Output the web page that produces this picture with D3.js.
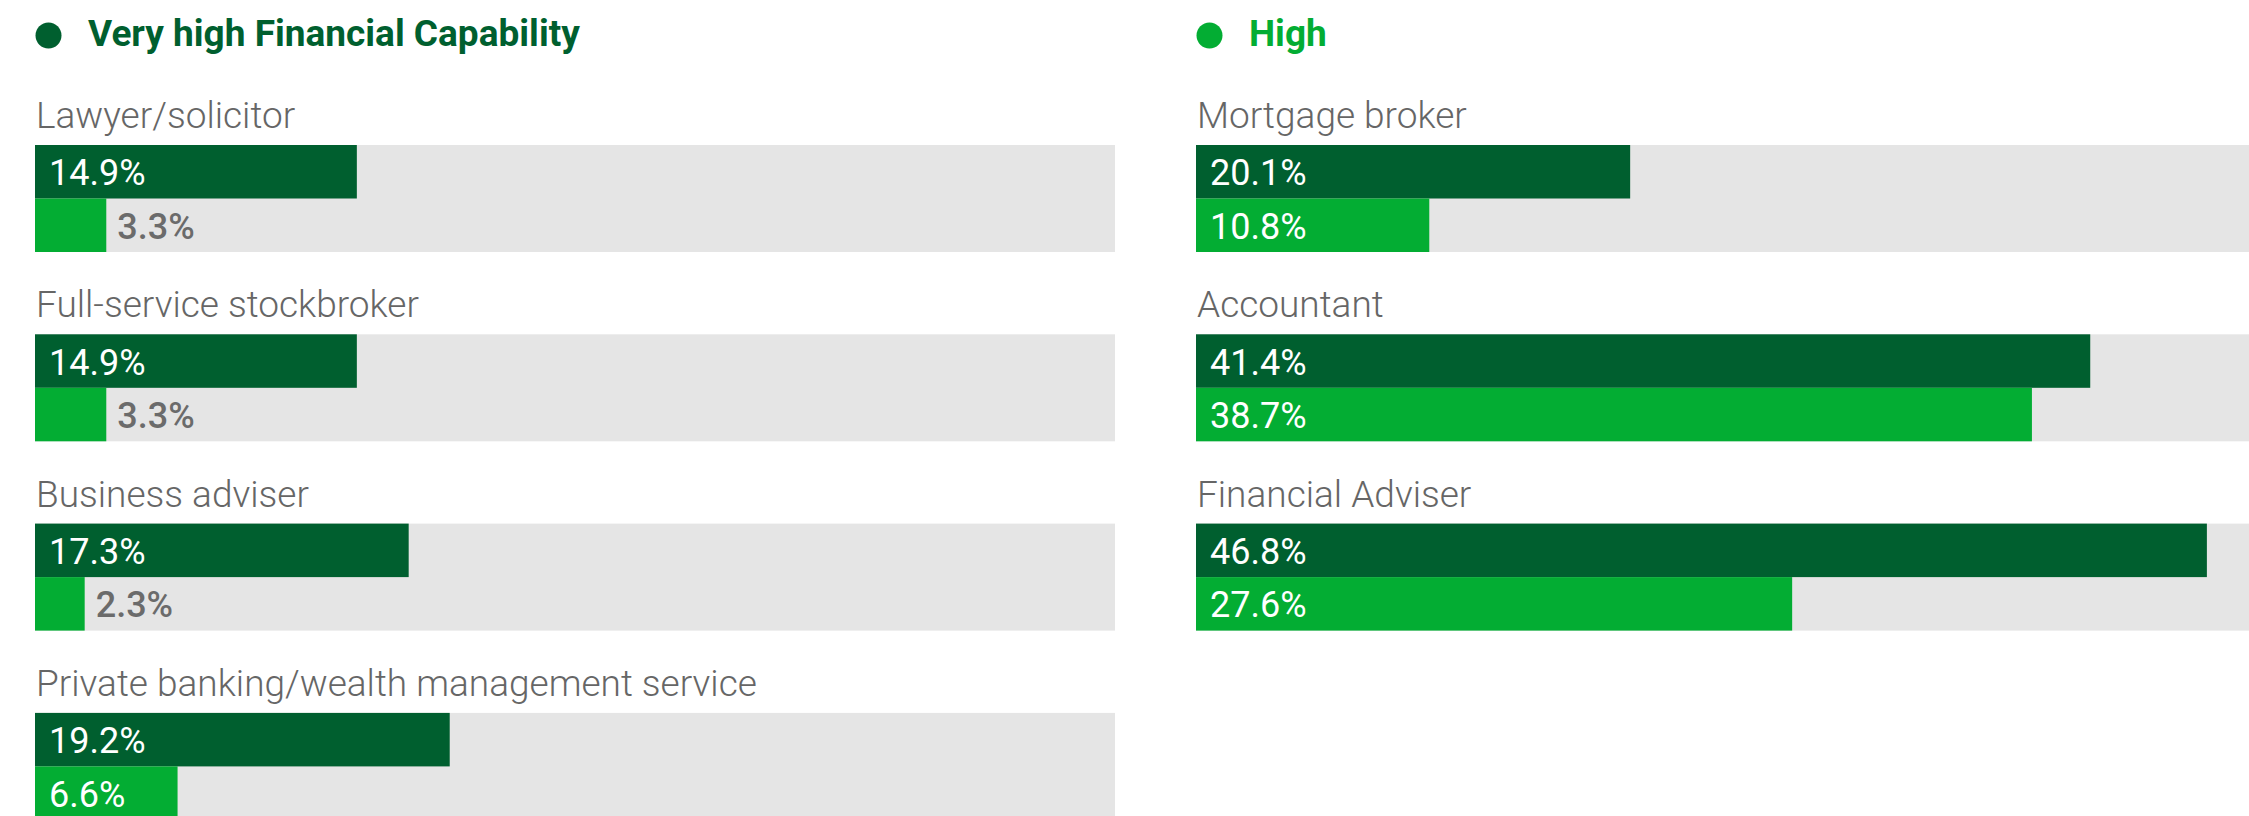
<!DOCTYPE html>
<html>
<head>
<meta charset="utf-8">
<script src="https://cdn.jsdelivr.net/npm/d3@7"></script>
<style>
  body { margin: 0; background: #fff; }
  svg { display: block; font-family: Roboto, "Noto Sans", sans-serif; }
</style>
</head>
<body>
<div></div>
<script>
// data
const seriesNames = ["Very high Financial Capability", "High"];
const categories = [
    "Lawyer/solicitor",
    "Full-service stockbroker",
    "Business adviser",
    "Private banking/wealth management service",
    "Mortgage broker",
    "Accountant",
    "Financial Adviser"
];
const veryHigh = [14.9, 14.9, 17.3, 19.2, 20.1, 41.4, 46.8];
const high = [3.3, 3.3, 2.3, 6.6, 10.8, 38.7, 27.6];
// which column each category sits in
const column = [0, 0, 0, 0, 1, 1, 1];

const width = 2249, height = 816;
const colors = ["#005f2f", "#03ad33"];

const svg = d3.select("body div")
    .append("svg")
    .attr("width", width)
    .attr("height", height);

// columns and rows
const colX = d3.scalePoint().domain([0, 1]).range([35, 1196]);
const rowY = d3.scaleLinear().domain([0, 1]).range([145, 334.3]);
const x = d3.scaleLinear().domain([0, 50]).range([0, 1080]);
const sub = d3.scaleBand().domain([0, 1]).range([0, 107]);

const rows = categories.map(function (c, i) {
    const r = column.slice(0, i).filter(function (k) { return k == column[i]; }).length;
    return { name: c, col: column[i], row: r, values: [veryHigh[i], high[i]] };
});

// legend across the top
const legend = svg.append("g")
    .selectAll("g")
    .data(seriesNames)
    .join("g")
    .attr("transform", function (d, i) { return `translate(${colX(i)},0)`; });

legend.append("circle")
    .attr("cx", 13.5)
    .attr("cy", 35.5)
    .attr("r", 13)
    .attr("fill", function (d, i) { return colors[i]; });

legend.append("text")
    .attr("x", 53)
    .attr("y", 46)
    .style("font-size", "37px")
    .style("font-weight", 700)
    .attr("fill", function (d, i) { return colors[i]; })
    .text(function (d) { return d; });

// one group per category
const group = svg.append("g")
    .selectAll("g")
    .data(rows)
    .join("g")
    .attr("transform", function (d) { return `translate(${colX(d.col)},${rowY(d.row)})`; });

group.append("text")
    .attr("x", 1)
    .attr("y", -17)
    .style("font-size", "37px")
    .style("font-weight", 300)
    .attr("fill", "#666")
    .text(function (d) { return d.name; });

// grey track behind both bars
group.append("rect")
    .attr("width", x(50))
    .attr("height", sub.range()[1])
    .attr("fill", "#e5e5e5");

const bar = group.selectAll("g.bar")
    .data(function (d) { return d.values; })
    .join("g")
    .attr("class", "bar")
    .attr("transform", function (d, i) { return `translate(0,${sub(i)})`; });

bar.append("rect")
    .attr("width", function (d) { return x(d); })
    .attr("height", sub.bandwidth())
    .attr("fill", function (d, i) { return colors[i]; });

bar.append("text")
    .attr("y", sub.bandwidth() / 2 + 13.5)
    .style("font-size", "36px")
    .style("font-weight", 400)
    .text(function (d) { return d.toFixed(1) + "%"; })
    .each(function (d) {
        const t = d3.select(this);
        const w = this.getComputedTextLength();
        if (x(d) > w + 28) {
            t.attr("x", 14).attr("fill", "#fff");
        } else {
            t.attr("x", x(d) + 11).attr("fill", "#6b6b6b").style("font-weight", 500);
        }
    });
</script>
</body>
</html>
